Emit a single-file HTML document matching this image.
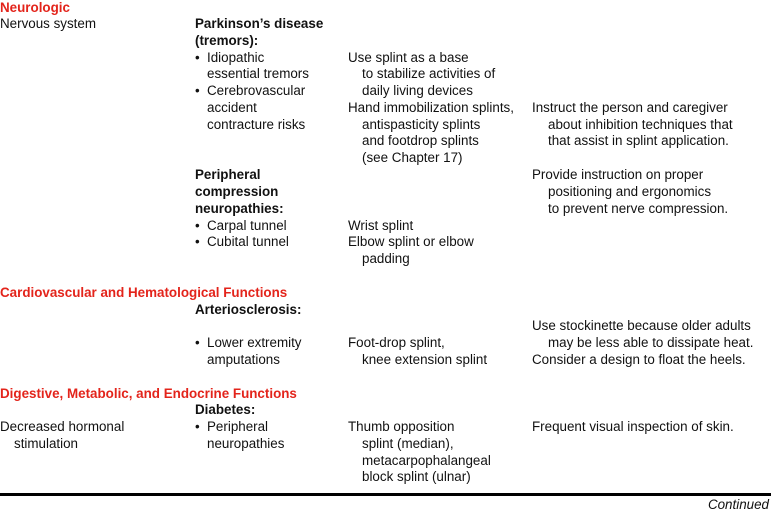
<!DOCTYPE html>
<html><head><meta charset="utf-8"><style>
html,body{margin:0;padding:0;background:#fff;}
body{width:771px;height:510px;position:relative;overflow:hidden;font-family:"Liberation Sans",sans-serif;font-size:13.4px;color:#111;}
.l{position:absolute;white-space:nowrap;line-height:16px;}
.h{color:#e3241b;font-weight:bold;}
.b{font-weight:bold;}
.bul{position:absolute;left:195px;white-space:nowrap;line-height:16px;}
</style></head><body>
<div class="l h" style="left:0;top:0px">Neurologic</div>
<div class="l" style="left:0;top:16px">Nervous system</div>
<div class="l b" style="left:195px;top:16px">Parkinson’s disease</div>
<div class="l b" style="left:195px;top:33px">(tremors):</div>
<div class="bul" style="top:50px">•</div><div class="l" style="left:207px;top:50px">Idiopathic</div>
<div class="l" style="left:207px;top:66px">essential tremors</div>
<div class="bul" style="top:83px">•</div><div class="l" style="left:207px;top:83px">Cerebrovascular</div>
<div class="l" style="left:207px;top:100px">accident</div>
<div class="l" style="left:207px;top:117px">contracture risks</div>
<div class="l" style="left:348px;top:50px">Use splint as a base</div>
<div class="l" style="left:362px;top:66px">to stabilize activities of</div>
<div class="l" style="left:362px;top:83px">daily living devices</div>
<div class="l" style="left:348px;top:100px">Hand immobilization splints,</div>
<div class="l" style="left:362px;top:117px">antispasticity splints</div>
<div class="l" style="left:362px;top:133px">and footdrop splints</div>
<div class="l" style="left:362px;top:150px">(see Chapter 17)</div>
<div class="l" style="left:532px;top:100px">Instruct the person and caregiver</div>
<div class="l" style="left:548px;top:117px">about inhibition techniques that</div>
<div class="l" style="left:548px;top:133px">that assist in splint application.</div>
<div class="l b" style="left:195px;top:167px">Peripheral</div>
<div class="l b" style="left:195px;top:184px">compression</div>
<div class="l b" style="left:195px;top:201px">neuropathies:</div>
<div class="l" style="left:532px;top:167px">Provide instruction on proper</div>
<div class="l" style="left:548px;top:184px">positioning and ergonomics</div>
<div class="l" style="left:548px;top:201px">to prevent nerve compression.</div>
<div class="bul" style="top:218px">•</div><div class="l" style="left:207px;top:218px">Carpal tunnel</div>
<div class="bul" style="top:234px">•</div><div class="l" style="left:207px;top:234px">Cubital tunnel</div>
<div class="l" style="left:348px;top:218px">Wrist splint</div>
<div class="l" style="left:348px;top:234px">Elbow splint or elbow</div>
<div class="l" style="left:362px;top:251px">padding</div>
<div class="l h" style="left:0;top:285px">Cardiovascular and Hematological Functions</div>
<div class="l b" style="left:195px;top:302px">Arteriosclerosis:</div>
<div class="l" style="left:532px;top:318px">Use stockinette because older adults</div>
<div class="l" style="left:548px;top:335px">may be less able to dissipate heat.</div>
<div class="bul" style="top:335px">•</div><div class="l" style="left:207px;top:335px">Lower extremity</div>
<div class="l" style="left:207px;top:352px">amputations</div>
<div class="l" style="left:348px;top:335px">Foot-drop splint,</div>
<div class="l" style="left:362px;top:352px">knee extension splint</div>
<div class="l" style="left:532px;top:352px">Consider a design to float the heels.</div>
<div class="l h" style="left:0;top:386px">Digestive, Metabolic, and Endocrine Functions</div>
<div class="l b" style="left:195px;top:402px">Diabetes:</div>
<div class="l" style="left:0;top:419px">Decreased hormonal</div>
<div class="l" style="left:14px;top:436px">stimulation</div>
<div class="bul" style="top:419px">•</div><div class="l" style="left:207px;top:419px">Peripheral</div>
<div class="l" style="left:207px;top:436px">neuropathies</div>
<div class="l" style="left:348px;top:419px">Thumb opposition</div>
<div class="l" style="left:362px;top:436px">splint (median),</div>
<div class="l" style="left:362px;top:453px">metacarpophalangeal</div>
<div class="l" style="left:362px;top:469px">block splint (ulnar)</div>
<div class="l" style="left:532px;top:419px">Frequent visual inspection of skin.</div>
<div style="position:absolute;left:0;top:493px;width:771px;height:3px;background:#000"></div>
<div class="l" style="right:2px;top:497px;font-style:italic">Continued</div>
</body></html>
